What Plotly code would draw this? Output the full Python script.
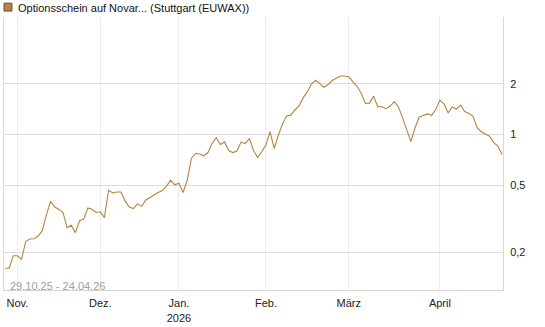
import pandas as pd
import plotly.graph_objects as go

# ---- data -------------------------------------------------------------
start_date = "2025-10-29"
end_date = "2026-04-24"
holidays = ["2025-12-24", "2025-12-25", "2025-12-26", "2025-12-31",
            "2026-01-01", "2026-04-03", "2026-04-06"]

prices = [
    0.161, 0.161, 0.191, 0.191, 0.182, 0.232, 0.240, 0.241, 0.250, 0.269,
    0.334, 0.401, 0.372, 0.361, 0.345, 0.280, 0.290, 0.262, 0.308, 0.315,
    0.367, 0.360, 0.345, 0.348, 0.321, 0.468, 0.450, 0.456, 0.456, 0.404,
    0.372, 0.364, 0.388, 0.375, 0.409, 0.424, 0.435, 0.453, 0.465, 0.494,
    0.536, 0.503, 0.515, 0.453, 0.536, 0.721, 0.772, 0.767, 0.748, 0.782,
    0.884, 0.958, 0.872, 0.904, 0.804, 0.782, 0.798, 0.902, 0.884, 0.945,
    0.804, 0.731, 0.790, 0.866, 1.039, 0.826, 0.991, 1.157, 1.290, 1.303,
    1.398, 1.476, 1.655, 1.790, 2.000, 2.097, 2.005, 1.908, 1.979, 2.090,
    2.154, 2.222, 2.222, 2.204, 2.055, 1.933, 1.759, 1.531, 1.536, 1.689,
    1.462, 1.462, 1.423, 1.476, 1.568, 1.457, 1.255, 1.082, 0.908, 1.097,
    1.267, 1.298, 1.325, 1.300, 1.408, 1.600, 1.516, 1.343, 1.457, 1.417,
    1.496, 1.370, 1.334, 1.281, 1.097, 1.039, 1.004, 0.977, 0.895, 0.854,
    0.761,
]

month_ticks = ["2025-11-03", "2025-12-01", "2026-01-02", "2026-02-02",
               "2026-03-02", "2026-04-01"]
month_labels = ["Nov.", "Dez.", "Jan.<br>2026", "Feb.", "März", "April"]

y_ticks = [0.2, 0.5, 1, 2]
y_labels = ["0,2", "0,5", "1", "2"]

title_text = "Optionsschein auf Novar... (Stuttgart (EUWAX))"
range_text = "29.10.25 - 24.04.26"

# ---- build ------------------------------------------------------------
days = pd.bdate_range(start_date, end_date)
days = [d.strftime("%Y-%m-%d") for d in days if d.strftime("%Y-%m-%d") not in holidays]
days = days[:len(prices)]

line_color = "#B5843C"

fig = go.Figure()
fig.add_trace(go.Scatter(
    x=days, y=prices, mode="lines",
    line=dict(color=line_color, width=1.1),
    hoverinfo="skip", showlegend=False,
))

fig.update_layout(
    width=545, height=327,
    margin=dict(l=3, r=42, t=17, b=34),
    paper_bgcolor="white", plot_bgcolor="white",
    font=dict(family="Liberation Sans, Arial, sans-serif", size=11, color="#222"),
    separators=",.",
    showlegend=False,
    xaxis=dict(
        type="category",
        range=[-0.24, len(prices) - 1 + 0.24],
        tickmode="array", tickvals=month_ticks, ticktext=month_labels,
        showgrid=True, gridcolor="#EDEDED", gridwidth=1,
        showline=True, linecolor="#D4D4D4", linewidth=1,
        ticks="outside", ticklen=3, tickcolor="rgba(0,0,0,0)",
        tickfont=dict(size=11, color="#222"),
        zeroline=False, fixedrange=True,
    ),
    yaxis=dict(
        type="log", side="right",
        range=[-0.922, 0.697],
        tickmode="array", tickvals=y_ticks, ticktext=y_labels,
        showgrid=True, gridcolor="#DCDCDC", gridwidth=1,
        showline=True, linecolor="#D8D8D8", linewidth=1, mirror=True,
        ticks="outside", ticklen=4, tickcolor="rgba(0,0,0,0)",
        tickfont=dict(size=11, color="#222"),
        zeroline=False, fixedrange=True,
    ),
)

# legend-like header
fig.add_shape(type="rect", xref="paper", yref="paper",
              x0=0, x1=(11 - 3) / 500,
              y0=1 + (17 - 11) / 276, y1=1 + (17 - 3) / 276,
              fillcolor="#B08445", line=dict(color="#6B5430", width=1))
fig.add_annotation(xref="paper", yref="paper",
                   x=(15 - 3) / 500, y=1 + (17 - 7.5) / 276,
                   xanchor="left", yanchor="middle", showarrow=False,
                   text=title_text, font=dict(size=11, color="#111"))
fig.add_annotation(xref="paper", yref="paper",
                   x=(7 - 3) / 500, y=(293 - 289) / 276,
                   xanchor="left", yanchor="middle", showarrow=False,
                   text=range_text, font=dict(size=11, color="#A0A0A0"))

fig.write_html("out.html")
